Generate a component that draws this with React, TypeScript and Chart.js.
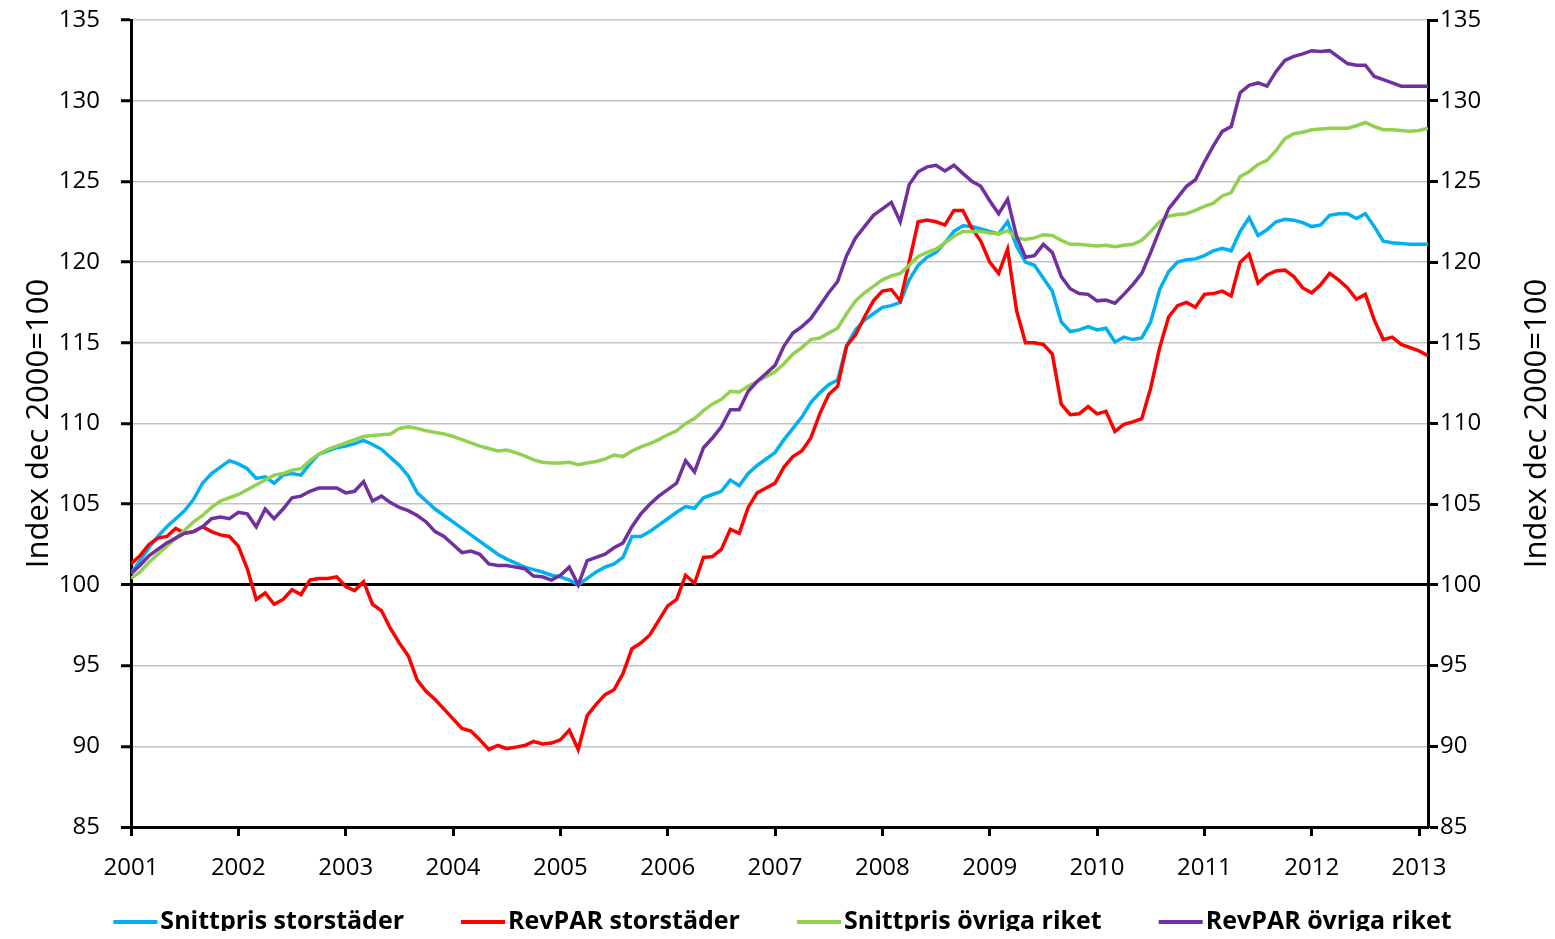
import React, { useEffect, useRef } from "react";
import { Chart, registerables } from "chart.js";

Chart.register(...registerables);

// ---- data (monthly index, Jan 2001 .. Feb 2013) ----
const firstYear = 2001;
const yearTickYears = [2001, 2002, 2003, 2004, 2005, 2006, 2007, 2008, 2009, 2010, 2011, 2012, 2013];
const yTickValues = [85, 90, 95, 100, 105, 110, 115, 120, 125, 130, 135];

const snittprisStorstader = [
  100.7, 101.5, 102.3, 103.0, 103.6, 104.1, 104.6, 105.3, 106.3, 106.9, 107.3, 107.7,
  107.5, 107.2, 106.6, 106.7, 106.3, 106.8, 106.9, 106.8, 107.5, 108.1, 108.3, 108.5,
  108.6, 108.75, 108.95, 108.7, 108.4, 107.9, 107.4, 106.75, 105.7, 105.2, 104.7, 104.3,
  103.9, 103.5, 103.1, 102.7, 102.3, 101.9, 101.6, 101.35, 101.1, 100.95, 100.8, 100.6,
  100.5, 100.3, 100.0, 100.4, 100.8, 101.1, 101.3, 101.7, 103.0, 103.0, 103.3, 103.7,
  104.1, 104.5, 104.85, 104.75, 105.4, 105.6, 105.8, 106.5, 106.15, 106.9, 107.4, 107.8,
  108.2, 109.0, 109.7, 110.4, 111.3, 111.9, 112.4, 112.7, 114.8, 115.8, 116.4, 116.8,
  117.2, 117.3, 117.5, 118.9, 119.8, 120.3, 120.6, 121.2, 121.9, 122.25, 122.2, 122.05,
  121.9, 121.75, 122.5, 121.0, 120.0, 119.8, 119.0, 118.2, 116.3, 115.7, 115.8, 116.0,
  115.8, 115.9, 115.05, 115.35, 115.2, 115.3, 116.3, 118.3, 119.4, 120.0, 120.15, 120.2,
  120.4, 120.7, 120.85, 120.7, 121.9, 122.75, 121.65, 122.0, 122.5, 122.65, 122.6, 122.45,
  122.2, 122.3, 122.9, 123.0, 123.0, 122.7, 123.0, 122.2, 121.3, 121.2, 121.15, 121.1,
  121.1, 121.1,
];

const revparStorstader = [
  101.3, 101.8, 102.5, 102.9, 103.0, 103.5, 103.2, 103.3, 103.6, 103.3, 103.1, 103.0,
  102.4, 101.0, 99.1, 99.5, 98.8, 99.1, 99.7, 99.4, 100.3, 100.4, 100.4, 100.5,
  99.9, 99.65, 100.2, 98.8, 98.4, 97.3, 96.4, 95.6, 94.1, 93.4, 92.9, 92.3,
  91.7, 91.1, 90.95, 90.4, 89.8, 90.05, 89.85, 89.95, 90.05, 90.3, 90.15, 90.2,
  90.4, 91.0, 89.8, 91.9, 92.6, 93.2, 93.5, 94.5, 96.05, 96.4, 96.9, 97.8,
  98.7, 99.1, 100.6, 100.1, 101.7, 101.75, 102.2, 103.45, 103.2, 104.8, 105.7, 106.0,
  106.3, 107.3, 107.95, 108.3, 109.1, 110.6, 111.8, 112.3, 114.8, 115.5, 116.6, 117.6,
  118.2, 118.3, 117.6, 120.0, 122.5, 122.6, 122.5, 122.3, 123.2, 123.2, 122.1, 121.3,
  120.0, 119.3, 120.8, 117.0, 115.0, 115.0, 114.9, 114.3, 111.2, 110.55, 110.6, 111.05,
  110.6, 110.75, 109.5, 109.95, 110.1, 110.3, 112.2, 114.7, 116.6, 117.3, 117.5, 117.2,
  118.0, 118.05, 118.2, 117.9, 120.0, 120.5, 118.7, 119.2, 119.45, 119.5, 119.1, 118.4,
  118.1, 118.6, 119.3, 118.9, 118.4, 117.7, 118.0, 116.4, 115.2, 115.35, 114.9, 114.7,
  114.5, 114.2,
];

const snittprisOvrigaRiket = [
  100.4, 100.8, 101.4, 101.9, 102.4, 102.9, 103.4, 103.9, 104.3, 104.8, 105.2, 105.4,
  105.6, 105.9, 106.2, 106.5, 106.8, 106.9, 107.1, 107.2, 107.7, 108.1, 108.4, 108.6,
  108.8, 109.0, 109.2, 109.25, 109.3, 109.35, 109.7, 109.8, 109.7, 109.55, 109.45, 109.35,
  109.2, 109.0, 108.8, 108.6, 108.45, 108.3, 108.35, 108.2, 108.0, 107.75, 107.6, 107.55,
  107.55, 107.6, 107.45, 107.55, 107.65, 107.8, 108.05, 107.95, 108.3, 108.55, 108.75, 109.0,
  109.3, 109.55, 110.0, 110.3, 110.8, 111.2, 111.5, 112.0, 111.95, 112.3, 112.6, 112.9,
  113.2, 113.7, 114.3, 114.7, 115.2, 115.3, 115.6, 115.9, 116.8, 117.6, 118.1, 118.5,
  118.9, 119.15, 119.3, 119.8, 120.35, 120.6, 120.8, 121.2, 121.6, 121.9, 121.9, 121.9,
  121.8, 121.75, 121.95, 121.5, 121.4, 121.5, 121.7, 121.65, 121.35, 121.1, 121.1, 121.05,
  121.0, 121.05, 120.95, 121.05, 121.1, 121.35, 121.9, 122.5, 122.85, 122.95, 123.0, 123.2,
  123.45, 123.65, 124.1, 124.3, 125.3, 125.6, 126.05, 126.3, 126.9, 127.65, 127.95, 128.05,
  128.2, 128.25, 128.3, 128.3, 128.3, 128.45, 128.65, 128.4, 128.2, 128.2, 128.15, 128.1,
  128.15, 128.3,
];

const revparOvrigaRiket = [
  100.7, 101.2, 101.8, 102.2, 102.6, 102.9, 103.2, 103.3, 103.6, 104.1, 104.2, 104.1,
  104.5, 104.4, 103.6, 104.7, 104.1, 104.7, 105.4, 105.5, 105.8, 106.0, 106.0, 106.0,
  105.7, 105.8, 106.4, 105.2, 105.5, 105.1, 104.8, 104.6, 104.3, 103.9, 103.3, 103.0,
  102.5, 102.0, 102.1, 101.9, 101.3, 101.2, 101.2, 101.1, 101.0, 100.55, 100.5, 100.3,
  100.6, 101.1, 100.0, 101.5, 101.7, 101.9, 102.3, 102.6, 103.6, 104.4, 105.0, 105.5,
  105.9, 106.3, 107.7, 107.0, 108.5, 109.1, 109.8, 110.85, 110.85, 112.0, 112.6, 113.1,
  113.6, 114.8, 115.6, 116.0, 116.5, 117.3, 118.1, 118.8, 120.4, 121.5, 122.2, 122.9,
  123.3, 123.7, 122.5, 124.8, 125.6, 125.9, 126.0, 125.65, 126.0, 125.5, 125.0, 124.7,
  123.8, 123.0, 123.9, 121.6, 120.3, 120.4, 121.1, 120.6, 119.1, 118.35, 118.05, 118.0,
  117.6, 117.65, 117.45, 118.0, 118.6, 119.3, 120.6, 122.0, 123.3, 124.0, 124.7, 125.1,
  126.2, 127.2, 128.1, 128.4, 130.5, 130.95, 131.1, 130.9, 131.8, 132.5, 132.75, 132.9,
  133.1, 133.05, 133.1, 132.7, 132.3, 132.2, 132.2, 131.5, 131.3, 131.1, 130.9, 130.9,
  130.9, 130.9,
];

const seriesNames = [
  "Snittpris storstäder",
  "RevPAR storstäder",
  "Snittpris övriga riket",
  "RevPAR övriga riket",
];
const seriesValues = [snittprisStorstader, revparStorstader, snittprisOvrigaRiket, revparOvrigaRiket];
const seriesColors = ["#00B0F0", "#FF0000", "#92D050", "#7030A0"];
const yAxisTitle = "Index dec 2000=100";

const FONT = '"Open Sans", "Noto Sans", sans-serif';

const extrasPlugin = {
  id: "titlesAndLegend",
  afterDraw(chart: any) {
    const { ctx, chartArea: a } = chart;
    ctx.save();
    // axis titles (both read bottom-to-top)
    ctx.font = `31px ${FONT}`;
    ctx.fillStyle = "#000";
    ctx.textAlign = "center";
    ctx.textBaseline = "middle";
    const cy = (a.top + a.bottom) / 2;
    for (const x of [31, chart.width - 10]) {
      ctx.save();
      ctx.translate(x, cy);
      ctx.rotate(-Math.PI / 2);
      ctx.fillText(yAxisTitle, 0, 0);
      ctx.restore();
    }
    // legend
    ctx.font = `bold 25px ${FONT}`;
    ctx.textAlign = "left";
    const ds = chart.data.datasets;
    const widths = ds.map((d: any) => ctx.measureText(d.label).width);
    const markerW = 44;
    const textGap = 3;
    const itemGap = 57;
    const total =
      widths.reduce((s: number, w: number) => s + markerW + textGap + w, 0) + itemGap * (ds.length - 1);
    let x = (a.left + a.right) / 2 + 3 - total / 2;
    const y = a.bottom + 95;
    ds.forEach((d: any, i: number) => {
      ctx.fillStyle = d.borderColor;
      ctx.fillRect(x, y - 2, markerW, 4);
      x += markerW + textGap;
      ctx.fillStyle = "#000";
      ctx.fillText(d.label, x, y);
      x += widths[i] + itemGap;
    });
    ctx.restore();
  },
};

export default function App() {
  const canvasRef = useRef<HTMLCanvasElement | null>(null);

  useEffect(() => {
    if (!canvasRef.current) return;
    const nMonths = snittprisStorstader.length;
    const datasets = seriesValues.map((vals, i) => ({
      label: seriesNames[i],
      data: vals.map((v, m) => ({ x: m, y: v })),
      borderColor: seriesColors[i],
      backgroundColor: seriesColors[i],
      borderWidth: 3.5,
      pointRadius: 0,
      tension: 0,
      fill: false,
      order: seriesValues.length - 1 - i,
    }));

    const yTickFilter = (scale: any) => {
      scale.ticks = yTickValues.map((v) => ({ value: v }));
    };

    const chart = new Chart(canvasRef.current, {
      type: "line",
      data: { datasets },
      plugins: [extrasPlugin],
      options: {
        animation: false,
        responsive: false,
        layout: { padding: { top: 12, left: 0, right: 0, bottom: 0 } },
        plugins: { legend: { display: false }, tooltip: { enabled: false } },
        scales: {
          x: {
            type: "linear",
            min: 0,
            max: nMonths - 1,
            afterBuildTicks: (scale: any) => {
              scale.ticks = yearTickYears.map((yr) => ({ value: (yr - firstYear) * 12 }));
            },
            afterFit: (scale: any) => {
              scale.height = 104;
            },
            ticks: {
              callback: (v: any) => String(firstYear + Number(v) / 12),
              font: { family: FONT, size: 24, lineHeight: 1 },
              color: "#000",
              padding: 20,
              maxRotation: 0,
              autoSkip: false,
            },
            grid: {
              drawOnChartArea: false,
              drawTicks: true,
              tickLength: 9,
              tickColor: "#000",
              tickWidth: 3,
            },
            border: { display: true, color: "#000", width: 3 },
          },
          y: {
            type: "linear",
            position: "left",
            min: 85,
            max: 135,
            afterBuildTicks: yTickFilter,
            afterFit: (scale: any) => {
              scale.width = 123;
              scale.paddingTop = 0;
              scale.paddingBottom = 0;
            },
            ticks: {
              font: { family: FONT, size: 24, lineHeight: 1 },
              color: "#000",
              padding: 21,
            },
            grid: {
              color: (c: any) => (c.tick && (c.tick.value === 100 || c.tick.value === 85) ? "#000" : "#c4c4c4"),
              lineWidth: (c: any) => (c.tick && (c.tick.value === 100 || c.tick.value === 85) ? 3 : 1.5),
              drawTicks: true,
              tickLength: 10,
              tickColor: "#000",
              tickWidth: 3,
            },
            border: { display: true, color: "#000", width: 3 },
          },
          y2: {
            type: "linear",
            position: "right",
            min: 85,
            max: 135,
            afterBuildTicks: yTickFilter,
            afterFit: (scale: any) => {
              scale.width = 119;
              scale.paddingTop = 0;
              scale.paddingBottom = 0;
            },
            ticks: {
              font: { family: FONT, size: 24, lineHeight: 1 },
              color: "#000",
              padding: 2,
            },
            grid: {
              drawOnChartArea: false,
              drawTicks: true,
              tickLength: 10,
              tickColor: "#000",
              tickWidth: 3,
            },
            border: { display: true, color: "#000", width: 3 },
          },
        },
      } as any,
    });
    return () => chart.destroy();
  }, []);

  return (
    <div style={{ width: 1539, height: 923 }}>
      <canvas ref={canvasRef} width={1539} height={923} />
    </div>
  );
}
